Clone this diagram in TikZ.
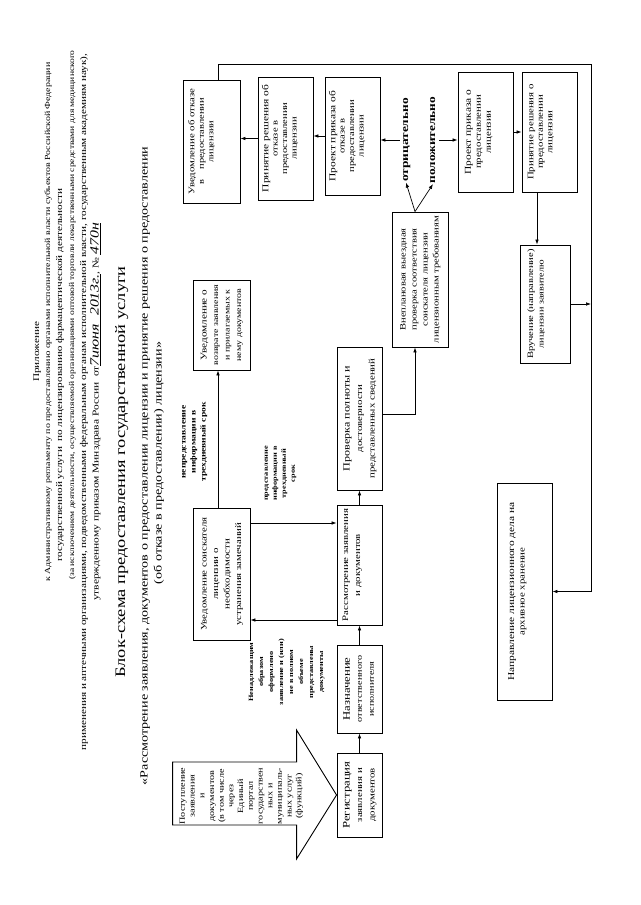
\documentclass[tikz,border=0pt]{standalone}
\usepackage{fontspec}
\setmainfont{Liberation Serif}
\usepackage{graphicx}
\usetikzlibrary{arrows.meta}
\newcommand{\stx}[1]{\scalebox{1.27}[1]{\begin{tabular}{@{}c@{}}#1\end{tabular}}}
\newcommand{\fs}[2]{{\fontsize{#1}{#1}\selectfont #2}}
\newcommand{\hw}[1]{{\fontsize{12.5}{12.5}\selectfont\itshape #1}}
\begin{document}
\begin{tikzpicture}[x=1pt,y=1pt,
  bx/.style={draw, line width=0.9pt, inner sep=0pt, rotate=90},
  tx/.style 2 args={inner sep=0pt, rotate=90, font=\fontsize{#1}{#2}\selectfont},
  lb/.style 2 args={inner sep=0.5pt, rotate=90, font=\bfseries\fontsize{#1}{#2}\selectfont},
  arr/.style={line width=0.7pt, -{Latex[length=5pt,width=3.6pt]}},
  ln/.style={line width=0.7pt}]
\useasboundingbox[fill=white] (0,-905) rectangle (640,0);

% header
\node[tx={8.8}{10}] (h1) at (37,-352) {\stx{Приложение}};
\node[tx={7.8}{10}] (h2) at (48,-322) {\stx{к Административному регламенту по предоставлению органами исполнительной власти субъектов Российской Федерации}};
\node[tx={8.8}{10}] (h3) at (60,-375) {\stx{государственной услуги \ по лицензированию фармацевтической деятельности}};
\node[tx={7.5}{10}] (h4) at (72,-315) {\stx{(за исключением деятельности, осуществляемой организациями оптовой торговли лекарственными средствами для медицинского}};
\node[tx={8.8}{10}] (h5) at (84,-402) {\stx{применения и аптечными организациями, подведомственными федеральным органам исполнительной власти, государственным академиям наук),}};
\node[tx={9}{10}] (h6) at (96,-412) {\stx{утвержденному приказом Минздрава России \ от\underline{\hw{7июня \ 2013г.}}, № \underline{\hw{470н}}}};
\node[tx={14.5}{16}] (tit) at (122,-472) {\stx{Блок-схема предоставления государственной услуги}};
\node[tx={11.1}{13}] (sub1) at (145,-466) {\stx{«Рассмотрение заявления, документов о предоставлении лицензии и принятие решения о предоставлении}};
\node[tx={11.1}{13}] (sub2) at (159,-463) {\stx{(об отказе в предоставлении) лицензии»}};

% main row
\node[bx, minimum width=84, minimum height=45] (reg) at (359.5,-795) {};
\node[tx={8.5}{12.5}] (regt) at (reg.center) {\stx{\fs{10}{Регистрация}\\заявления и\\документов}};
\node[bx, minimum width=88, minimum height=45] (naz) at (359.5,-689) {};
\node[tx={8}{12}] (nazt) at (naz.center) {\stx{\fs{10}{Назначение}\\ответственного\\исполнителя}};
\node[bx, minimum width=120, minimum height=45] (rass) at (359.5,-565) {};
\node[tx={8.5}{12}, anchor=north] (rasst) at ([xshift=3]rass.north) {\stx{Рассмотрение заявления\\и документов}};
\node[bx, minimum width=143, minimum height=45] (prov) at (359.5,-418.5) {};
\node[tx={8.5}{12.5}] (provt) at (prov.center) {\stx{\fs{9.5}{Проверка полноты и}\\достоверности\\представленных сведений}};
\node[bx, minimum width=135, minimum height=56] (H) at (420,-279.5) {};
\node[tx={8.3}{11}] (Ht) at (H.center) {\stx{Внеплановая выездная\\проверка соответствия\\соискателя лицензии\\лицензионным требованиям}};

% upper boxes
\node[bx, minimum width=132, minimum height=57] (F) at (221.5,-574) {};
\node[tx={8.5}{11.5}] (Ft) at (F.center) {\stx{Уведомление соискателя\\лицензии о\\необходимости\\устранения замечаний}};
\node[bx, minimum width=90, minimum height=57] (G) at (221.5,-325) {};
\node[tx={7.8}{11.5}] (Gt) at (G.center) {\stx{\fs{8.8}{Уведомление о}\\возврате заявления\\и прилагаемых к\\нему документов}};

% right column
\node[bx, minimum width=123, minimum height=57] (b1) at (211.5,-141.5) {};
\node[tx={8.2}{9.5}, anchor=north] (b1t) at ([xshift=5]b1.north) {\stx{\fs{8.5}{Уведомление об отказе}\\в \ \ \ предоставлении\\лицензии}};
\node[bx, minimum width=123, minimum height=55] (b2) at (285.5,-138.5) {};
\node[tx={8.3}{9.4}, anchor=north] (b2t) at ([xshift=4]b2.north) {\stx{\fs{9}{Принятие решения об}\\отказе в\\предоставлении\\лицензии}};
\node[bx, minimum width=118, minimum height=55] (b3) at (352.5,-136) {};
\node[tx={8.3}{9.4}, anchor=north] (b3t) at ([xshift=4]b3.north) {\stx{\fs{9}{Проект приказа об}\\отказе в\\предоставлении\\лицензии}};
\node[bx, minimum width=120, minimum height=55] (b4) at (485.5,-132) {};
\node[tx={8.5}{10}, anchor=north] (b4t) at ([xshift=6]b4.north) {\stx{\fs{9}{Проект приказа о}\\предоставлении\\лицензии}};
\node[bx, minimum width=120, minimum height=55] (b5) at (549.5,-132) {};
\node[tx={8.5}{9.5}, anchor=north] (b5t) at ([xshift=5]b5.north) {\stx{\fs{8.5}{Принятие решения о}\\предоставлении\\лицензии}};
\node[bx, minimum width=118, minimum height=50] (vr) at (545,-304) {};
\node[tx={8}{10.5}, anchor=north] (vrt) at ([xshift=6]vr.north) {\stx{\fs{8.3}{Вручение (направление)}\\лицензии заявителю}};
\node[bx, minimum width=217, minimum height=55] (arch) at (524.5,-591.5) {};
\node[tx={8.5}{10.5}, anchor=north] (archt) at ([xshift=10]arch.north) {\stx{\fs{9}{Направление лицензионного дела на}\\архивное хранение}};

% labels
\node[lb={10.5}{11}] (neg) at (406,-140) {\stx{отрицательно}};
\node[lb={10.5}{11}] (pos) at (433,-140) {\stx{положительно}};
\node[lb={7.5}{10}] (lab1) at (193.5,-442) {\stx{непредставление\\информации в\\трехдневный срок}};
\node[lb={6.5}{9}] (lab2) at (279.5,-473.5) {\stx{представление\\информации в\\трехдневный\\срок}};
\node[lb={6.5}{10}] (lab3) at (286,-672) {\stx{Ненадлежащим\\образом\\оформлено\\заявление и (или)\\не в полном\\объеме\\представлены\\документы}};

% incoming block arrow
\draw[line width=0.9pt] (reg.north) -- ++(-40,65) -- ++(0,-32) -- ++(-124,0) -- ++(0,-63) -- ++(124,0) -- ++(0,-34) -- cycle;
\node[tx={8}{9.7}, anchor=north] (At) at (178,-796) {\stx{Поступление\\заявления\\и\\документов\\(в том числе\\через\\Единый\\портал\\государствен\\ных и\\муниципаль-\\ных услуг\\(функций)}};

% connectors
\draw[arr] (reg.east) -- (naz.west);
\draw[arr] (naz.east) -- (rass.west);
\draw[arr] (rass.east) -- (prov.west);
\draw[arr] ([yshift=4.5]prov.south) -| ([xshift=-5]H.west);
\draw[arr] ([yshift=51]F.south) -- ([yshift=51]F.south -| rass.north);
\draw[arr] ([yshift=-46]F.south -| rass.north) -- ([yshift=-46]F.south);
\draw[arr] ([xshift=-3.5]F.east) -- ([xshift=-3.5]G.west);
\draw[arr] ([xshift=-5]H.east) -- (neg.west);
\draw[arr] ([xshift=-5]H.east) -- (pos.west);
\draw[arr] (neg.north) -- (neg.north -| b3.south);
\draw[arr] (b3.north) -- (b3.north -| b2.south);
\draw[arr] (b2.north) -- (b2.north -| b1.south);
\draw[arr] (pos.south) -- (pos.south -| b4.north);
\draw[arr] (b4.south) -- (b4.south -| b5.north);
\draw[arr] ([xshift=-12.5]b5.west) -- ([xshift=-12.5]b5.west |- vr.east);
\coordinate (ct) at (591,-64);
\coordinate (cb) at (ct |- arch.south);
\draw[arr] (vr.south) -- (vr.south -| ct);
\draw[arr] ([xshift=6.5]b1.east) |- (ct) -- (cb) -- (arch.south);
\end{tikzpicture}
\end{document}
